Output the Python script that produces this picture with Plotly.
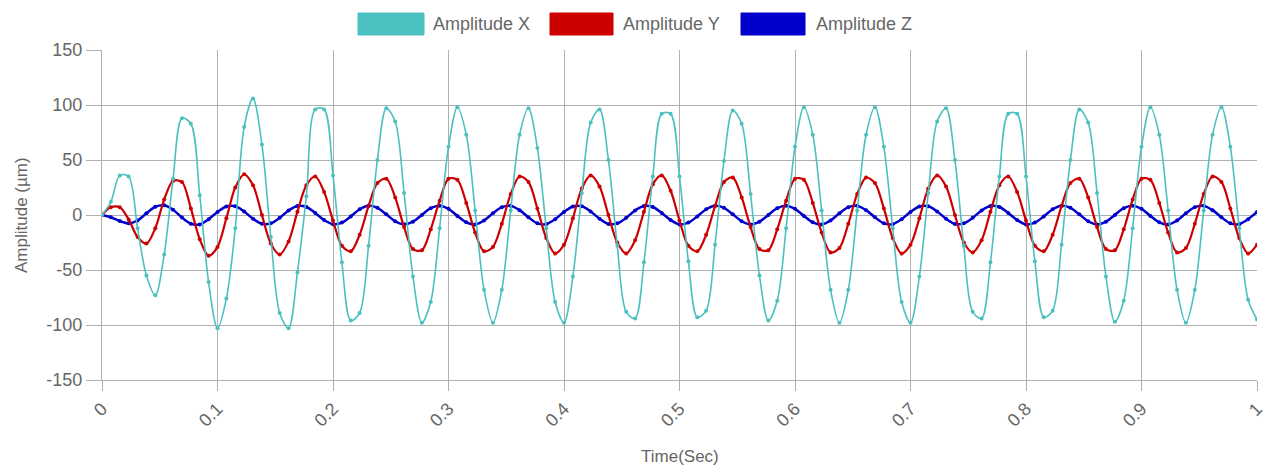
import plotly.graph_objects as go

SAMPLE_RATE = 130  # samples per second, 0 .. 1 s
time_s = [i / SAMPLE_RATE for i in range(131)]

amp_x = [0, 12, 36, 35, -12, -55, -73, -36, 33, 88,
         83, 18, -61, -103, -76, -12, 80, 106, 64, -20,
         -89, -103, -52, 17, 96, 96, 36, -43, -96, -89,
         -28, 50, 97, 85, 20, -56, -98, -79, -12, 62,
         98, 73, 4, -68, -98, -68, 4, 73, 97, 61,
         -12, -79, -98, -56, 20, 84, 96, 50, -28, -88,
         -94, -43, 35, 92, 92, 35, -42, -93, -87, -27,
         49, 95, 83, 19, -55, -96, -78, -12, 62, 98,
         73, 4, -68, -98, -68, 4, 73, 98, 62, -12,
         -79, -98, -56, 20, 85, 97, 50, -28, -88, -94,
         -43, 35, 92, 92, 35, -42, -93, -87, -27, 50,
         96, 84, 20, -56, -97, -78, -12, 62, 98, 73,
         4, -68, -98, -68, 4, 73, 98, 62, -12, -77,
         -95]

amp_y = [0, 7, 7, -4, -20, -26, -12, 14, 31, 30,
         6, -22, -37, -29, -3, 25, 37, 27, 0, -26,
         -36, -24, 3, 27, 35, 21, -5, -28, -33, -18,
         8, 29, 33, 16, -11, -31, -32, -13, 13, 33,
         32, 11, -16, -33, -29, -8, 19, 35, 30, 6,
         -21, -35, -27, -3, 24, 36, 26, 0, -25, -35,
         -23, 3, 28, 36, 22, -5, -28, -33, -18, 8,
         30, 34, 16, -11, -31, -32, -13, 13, 33, 32,
         11, -16, -34, -30, -8, 19, 34, 29, 6, -21,
         -35, -27, -3, 24, 36, 26, 0, -25, -34, -23,
         3, 27, 35, 21, -5, -28, -33, -18, 8, 29,
         33, 16, -11, -31, -32, -13, 14, 33, 32, 11,
         -16, -34, -30, -8, 19, 35, 30, 6, -21, -35,
         -27]

amp_z = [0, -2, -5.5, -7.6, -5.0, 1.5, 7.5, 8.8, 4.7, -2.3,
         -7.9, -8.6, -3.8, 2.8, 7.7, 7.9, 3.2, -3.4, -8.0, -7.6,
         -2.6, 4.1, 8.2, 7.3, 1.9, -4.6, -8.4, -6.9, -1.3, 5.2,
         8.5, 6.5, 0.6, -5.7, -8.5, -6.1, 0.1, 6.2, 8.5, 5.6,
         -0.8, -6.7, -8.6, -5.0, 1.5, 7.1, 8.3, 4.4, -2.1, -7.6,
         -8.3, -3.8, 2.8, 7.7, 7.9, 3.2, -3.4, -8.2, -7.6, -2.6,
         4.1, 8.2, 7.3, 1.9, -4.6, -8.6, -6.9, -1.3, 5.2, 8.5,
         6.5, 0.6, -5.7, -8.7, -6.1, 0.1, 6.2, 8.5, 5.6, -0.8,
         -6.7, -8.6, -5.0, 1.5, 7.1, 8.3, 4.4, -2.1, -7.6, -8.3,
         -3.8, 2.8, 7.7, 7.9, 3.2, -3.4, -8.2, -7.6, -2.6, 4.1,
         8.2, 7.3, 1.9, -4.6, -8.6, -6.9, -1.3, 5.2, 8.5, 6.5,
         0.6, -5.7, -8.7, -6.1, 0.1, 6.2, 8.5, 5.6, -0.8, -6.7,
         -8.6, -5.0, 1.5, 7.1, 8.3, 4.4, -2.1, -7.6, -8.3, -3.8,
         2.8]

series_names = ["Amplitude X", "Amplitude Y", "Amplitude Z"]
series_colors = ["rgb(75,192,192)", "rgb(204,0,0)", "rgb(0,0,204)"]
x_tick_vals = [0, 0.1, 0.2, 0.3, 0.4, 0.5, 0.6, 0.7, 0.8, 0.9, 1]
x_tick_text = ["0", "0.1", "0.2", "0.3", "0.4", "0.5", "0.6", "0.7", "0.8", "0.9", "1"]
y_tick_vals = [-150, -100, -50, 0, 50, 100, 150]
y_tick_text = ["-150", "-100", "-50", "0", "50", "100", "150"]

FONT = "Liberation Sans, Arial, sans-serif"
GREY = "#666666"
GRID = "#b0b0b0"

W, H = 1266, 471
L, R, T, B = 102, 9, 50, 91
PW, PH = W - L - R, H - T - B


def px_to_paper_x(px):
    return (px - L) / PW


def px_to_paper_y(py):
    return (H - B - py) / PH


fig = go.Figure()
data = [amp_x, amp_y, amp_z]
widths = [1.6, 2.2, 2.5]
# draw Z, then Y, then X so X is on top
for k in [2, 1, 0]:
    fig.add_trace(go.Scatter(
        x=time_s, y=data[k], name=series_names[k], mode="lines+markers",
        line=dict(color=series_colors[k], width=widths[k], shape="spline", smoothing=0.9),
        marker=dict(color=series_colors[k], size=4),
        showlegend=False, cliponaxis=True,
    ))

# Chart.js-like legend (rectangles + labels)
legend_boxes = [(358, 424), (550, 613), (741, 805)]
legend_text_x = [431, 621, 814]
for k in range(3):
    x0, x1 = legend_boxes[k]
    fig.add_shape(type="rect", xref="paper", yref="paper",
                  x0=px_to_paper_x(x0), x1=px_to_paper_x(x1),
                  y0=px_to_paper_y(35), y1=px_to_paper_y(13),
                  fillcolor=series_colors[k], line=dict(color=series_colors[k], width=1))
    fig.add_annotation(xref="paper", yref="paper",
                       x=px_to_paper_x(legend_text_x[k]), y=px_to_paper_y(24),
                       text=series_names[k], showarrow=False, xanchor="left", yanchor="middle",
                       font=dict(family=FONT, size=18, color=GREY))

# axis titles as annotations for exact placement
fig.add_annotation(xref="paper", yref="paper", x=0.5, y=px_to_paper_y(456),
                   text="Time(Sec)", showarrow=False, xanchor="center", yanchor="middle",
                   font=dict(family=FONT, size=17, color=GREY))
fig.add_annotation(xref="paper", yref="paper", x=px_to_paper_x(21), y=0.5,
                   text="Amplitude (µm)", showarrow=False, textangle=-90,
                   xanchor="center", yanchor="middle",
                   font=dict(family=FONT, size=17, color=GREY))

fig.update_layout(
    width=W, height=H,
    margin=dict(l=L, r=R, t=T, b=B, autoexpand=False),
    paper_bgcolor="white", plot_bgcolor="white",
    font=dict(family=FONT, color=GREY),
    showlegend=False,
)
fig.update_xaxes(
    range=[0, 1], tickvals=x_tick_vals, ticktext=x_tick_text, tickangle=-45,
    showgrid=True, gridcolor=GRID, gridwidth=1.2,
    ticks="outside", ticklen=10, tickcolor=GRID, tickwidth=1.2,
    showline=True, linecolor=GRID, linewidth=1.2, mirror=False,
    zeroline=False, automargin=False, ticklabeloverflow="allow",
    tickfont=dict(family=FONT, size=18, color=GREY),
)
fig.update_yaxes(
    range=[-150, 150], tickvals=y_tick_vals, ticktext=y_tick_text,
    showgrid=True, gridcolor=GRID, gridwidth=1.2,
    ticks="outside", ticklen=15, tickcolor=GRID, tickwidth=1.2,
    showline=True, linecolor=GRID, linewidth=1.2,
    zeroline=False, automargin=False, ticklabeloverflow="allow",
    tickfont=dict(family=FONT, size=18, color=GREY),
)

fig.write_html("out.html", config={"displayModeBar": False},
               post_script="document.body.style.margin='0';document.body.style.padding='0';")
